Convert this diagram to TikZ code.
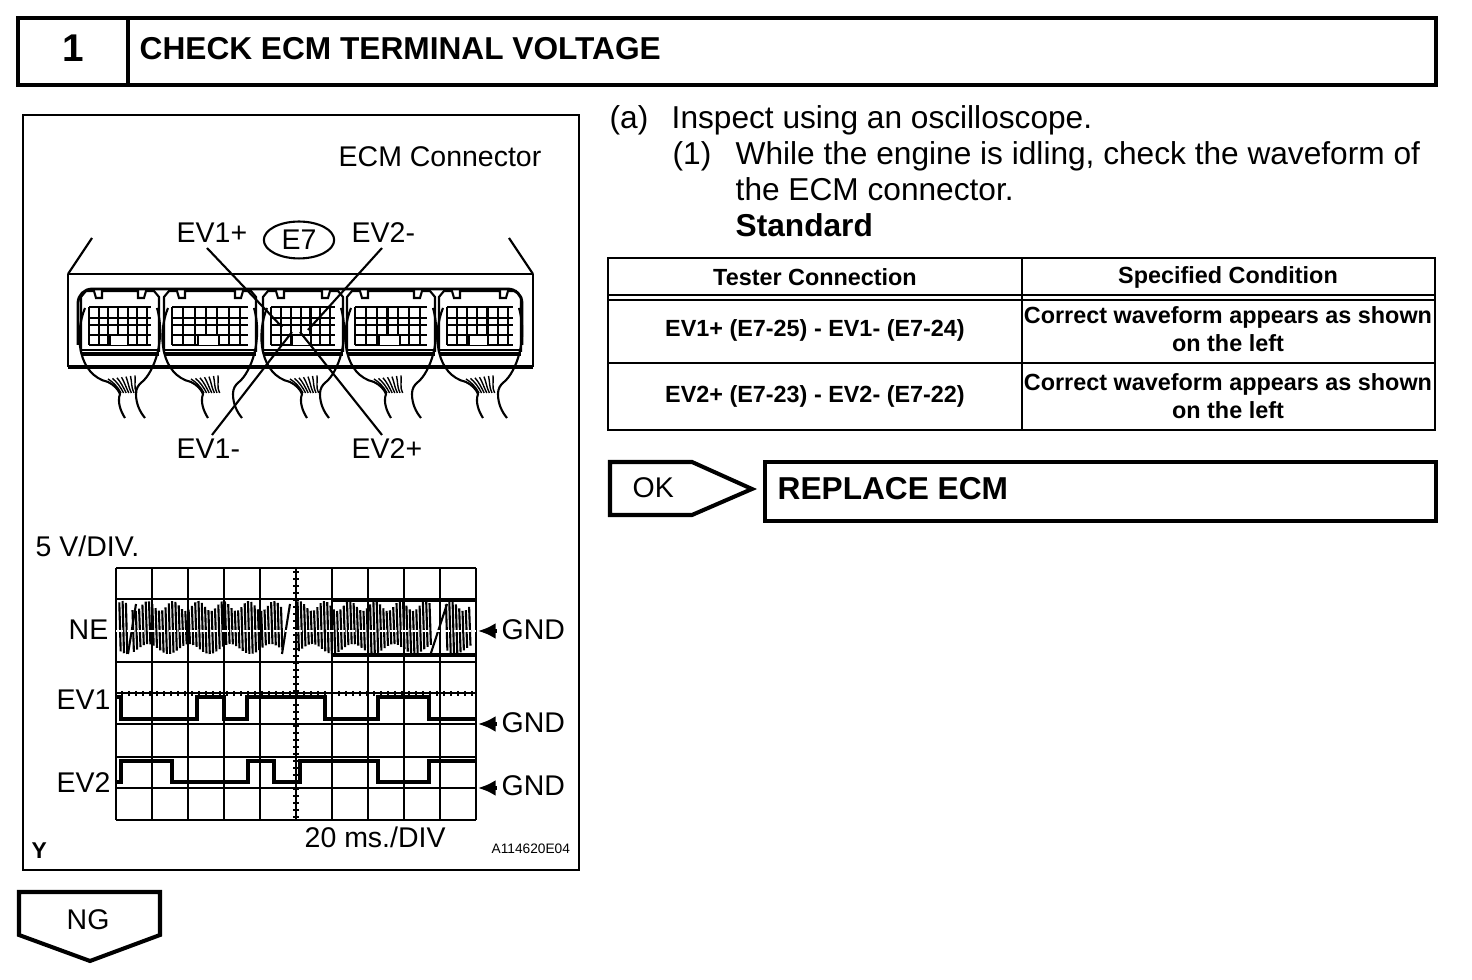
\documentclass[tikz,border=0pt]{standalone}
\usepackage{fontspec}
\setmainfont{Liberation Sans}
\usetikzlibrary{arrows.meta,shapes.geometric}
\tikzset{
    heavy/.style ={line width=1.15pt, draw=black},
    medium/.style ={line width=.6pt, draw=black},
    fine/.style ={line width=.4pt, draw=black},
    BT/.style ={anchor=base west, inner sep=0pt, font=\fontsize{9}{11}\selectfont},
    LB/.style ={anchor=base west, inner sep=0pt, font=\fontsize{8.1}{10}\selectfont},
    TT/.style ={anchor=base west, inner sep=0pt, font=\fontsize{9}{11}\selectfont\bfseries},
    TC/.style ={align=center, inner sep=0pt, font=\fontsize{6.65}{8}\selectfont\bfseries},
    GT/.style ={-{Latex[length=5pt,width=4.5pt]}, line width=.9pt}
}
% one plug of the connector: left edge, width
\newcommand{\ecmplug}[2]{
    \begin{scope}[shift={(#1,0)}]
        \pgfmathsetmacro{\pw}{#2}
        \draw[medium] (1,352) -- (1,297) -- (6,291) -- (14,291) -- (16,298) -- (22,298) -- (22,291) -- (\pw-22,291) -- (\pw-22,298) -- (\pw-16,298) -- (\pw-14,291) -- (\pw-6,291) -- (\pw-1,297) -- (\pw-1,352);
        \foreach \gx in {0,...,6}
            \draw[medium] (9+\gx*\pw/8.3,307) -- (9+\gx*\pw/8.3,345);
        \foreach \gy in {307,318,325,335,345}
            \draw[medium] (9,\gy) -- (\pw-9,\gy);
        \draw[medium, fill=white] (\pw*.37,345) -- (\pw*.37,335) -- (\pw*.60,335) -- (\pw*.60,345);
        \draw[line width=.9pt] (1,354) -- (\pw-1,354);
        \draw[fine] (1,350) -- (\pw-1,350);
        % wires
        \draw[medium] (5,308) .. controls (-6,335) and (-2,375) .. (28,382) .. controls (34,385) and (38,389) .. (40,394) .. controls (37,402) and (41,412) .. (45,418);
        \draw[medium] (\pw-3,308) .. controls (\pw+6,340) and (\pw-6,372) .. (\pw-18,382) .. controls (\pw-22,385) and (\pw-24,389) .. (\pw-24,394) .. controls (\pw-24,404) and (\pw-20,412) .. (\pw-15,418);
        \foreach \fx in {0,...,6}
            \draw[fine] (28+\fx*4.5,379-\fx*.6) .. controls (33+\fx*3.8,382) and (38+\fx*2.6,387) .. (41+\fx*2.6,393);
    \end{scope}
}
% NE trace pulses between two x values
\newcommand{\nepulse}[2]{
    \foreach \nx in {#1,...,#2}{
        \pgfmathsetmacro{\nc}{\nx*3.3}
        \pgfmathsetmacro{\nt}{631-25-5*sin(\nx*47)}
        \pgfmathsetmacro{\nb}{631+18+5*sin(\nx*29)}
        \draw[line width=.6pt] (116+\nc,\nt) -- (116+\nc+1.4,\nb);
    }
}
\begin{document}
\begin{tikzpicture}[x=0.01cm,y=-0.01cm]
    \useasboundingbox (0,0) rectangle (1472,980);

    % title bar
    \draw[heavy] (18,18) rectangle (1436,85);
    \draw[heavy] (128,18) -- (128,85);
    \node[anchor=center, inner sep=0pt, font=\fontsize{11}{13}\selectfont\bfseries] (stepno) at (73,48) {1};
    \node[TT] (title) at (139,60) {CHECK ECM TERMINAL VOLTAGE};

    % figure frame
    \draw[medium] (23,115) rectangle (579,870);
    \node[LB] (conn) at (338,167) {ECM Connector};

    % connector body
    \draw[medium] (68,274) -- (533,274);
    \draw[medium] (68,274) -- (68,367);
    \draw[medium] (533,274) -- (533,367);
    \draw[heavy] (68,367) -- (533,367);
    \draw[medium] (68,274) -- (92,238);
    \draw[medium] (533,274) -- (509,238);
    \draw[line width=.8pt, rounded corners=4pt] (78,345) -- (78,289) -- (522,289) -- (522,345);
    \ecmplug{80}{80}
    \ecmplug{163}{94}
    \ecmplug{262}{82}
    \ecmplug{346}{90}
    \ecmplug{438}{84}

    % pin labels
    \node[LB] (evap) at (176,243) {EV1+};
    \node[LB] (evbm) at (351,243) {EV2-};
    \node[LB] (evam) at (176,459) {EV1-};
    \node[LB] (evbp) at (351,459) {EV2+};
    \node[draw, ellipse, line width=.6pt, minimum width=20pt, minimum height=10.5pt, inner sep=0pt, font=\fontsize{8.1}{10}\selectfont] (ecode) at (299,240) {E7};
    \coordinate (pinap) at (282,327);
    \coordinate (pinbm) at (308,330);
    \coordinate (pinam) at (292,332);
    \coordinate (pinbp) at (300,332);
    \coordinate (leadap) at (207,248);
    \coordinate (leadbm) at (382,248);
    \coordinate (leadam) at (212,435);
    \coordinate (leadbp) at (382,435);
    \draw[medium] (leadap) -- (pinap);
    \draw[medium] (leadbm) -- (pinbm);
    \draw[medium] (leadam) -- (pinam);
    \draw[medium] (leadbp) -- (pinbp);

    % scope screen
    \node[LB] (vdiv) at (35,557) {5 V/DIV.};
    \foreach \sx in {0,...,10}
        \draw[medium] (116+\sx*36,568) -- (116+\sx*36,820);
    \foreach \sy in {568,599,662,693,724,757,788,820}
        \draw[medium] (116,\sy) -- (476,\sy);
    \foreach \ty in {0,...,35}
        \draw[fine] (293,572+\ty*7) -- (299,572+\ty*7);
    \foreach \tx in {0,...,50}
        \draw[fine] (122+\tx*7,691) -- (122+\tx*7,696);

    % NE trace
    \nepulse{1}{3}
    \nepulse{5}{50}
    \nepulse{55}{95}
    \nepulse{100}{107}
    \draw[line width=.6pt] (128,654) -- (136,604);
    \draw[line width=.6pt] (282,654) -- (290,604);
    \draw[line width=.6pt] (430,656) -- (447,604);
    \draw[line width=.9pt] (333,600) -- (476,600);
    \draw[line width=.9pt] (333,655) -- (476,655);
    \draw[white, line width=.4pt, dash pattern=on 2pt off 1pt] (116,631) -- (476,631);

    % EV1 and EV2 traces
    \draw[line width=.9pt] (116,697) -- (121,697) -- (121,719) -- (197,719) -- (197,697) -- (224,697) -- (224,719) -- (247,719) -- (247,697) -- (325,697) -- (325,719) -- (378,719) -- (378,697) -- (429,697) -- (429,719) -- (476,719);
    \draw[line width=.9pt] (116,782) -- (121,782) -- (121,761) -- (172,761) -- (172,782) -- (248,782) -- (248,761) -- (274,761) -- (274,782) -- (300,782) -- (300,761) -- (378,761) -- (378,782) -- (429,782) -- (429,761) -- (476,761);

    % trace labels
    \node[LB] (nelab) at (68,640) {NE};
    \node[LB] (evone) at (56,710) {EV1};
    \node[LB] (evtwo) at (56,793) {EV2};
    \node[LB] (gnda) at (501,640) {GND};
    \node[LB] (gndb) at (501,733) {GND};
    \node[LB] (gndc) at (501,796) {GND};
    \coordinate (tipa) at (478,631);
    \coordinate (tipb) at (478,724);
    \coordinate (tipc) at (478,788);
    \coordinate (taila) at (497,631);
    \coordinate (tailb) at (497,724);
    \coordinate (tailc) at (497,788);
    \draw[GT] (taila) -- (tipa);
    \draw[GT] (tailb) -- (tipb);
    \draw[GT] (tailc) -- (tipc);
    \node[LB] (tdiv) at (304,848) {20 ms./DIV};
    \node[anchor=base west, inner sep=0pt, font=\fontsize{6.5}{8}\selectfont\bfseries] (ylab) at (31,859) {Y};
    \node[anchor=base west, inner sep=0pt, font=\fontsize{3.9}{5}\selectfont] (figid) at (491,854) {A114620E04};

    % instructions
    \node[BT] (stepa) at (609,129) {(a)};
    \node[BT] (texta) at (671,129) {Inspect using an oscilloscope.};
    \node[BT] (stepb) at (672,165) {(1)};
    \node[BT] (textb) at (735,165) {While the engine is idling, check the waveform of};
    \node[BT] (textc) at (735,201) {the ECM connector.};
    \node[TT] (textd) at (735,237) {Standard};

    % table
    \draw[medium] (608,258) rectangle (1435,430);
    \draw[medium] (1022,258) -- (1022,430);
    \draw[medium] (608,295) -- (1435,295);
    \draw[medium] (608,300) -- (1435,300);
    \draw[medium] (608,363) -- (1435,363);
    \node[TC] (headl) at (815,277) {Tester Connection};
    \node[TC] (headr) at (1228,277) {Specified Condition};
    \node[TC] (rowal) at (815,330) {EV1+ (E7-25) - EV1- (E7-24)};
    \node[TC] (rowar) at (1228,329) {Correct waveform appears as shown\\on the left};
    \node[TC] (rowbl) at (815,396) {EV2+ (E7-23) - EV2- (E7-22)};
    \node[TC] (rowbr) at (1228,396) {Correct waveform appears as shown\\on the left};

    % result flags
    \draw[heavy] (610,462) -- (692,462) -- (752,489) -- (692,515) -- (610,515) -- cycle;
    \node[LB] (oklab) at (632,498) {OK};
    \draw[heavy] (765,462) rectangle (1436,521);
    \node[TT] (repl) at (777,500) {REPLACE ECM};
    \draw[heavy] (19,892) -- (160,892) -- (160,935) -- (90,961) -- (19,935) -- cycle;
    \node[LB] (nglab) at (66,930) {NG};
\end{tikzpicture}
\end{document}
